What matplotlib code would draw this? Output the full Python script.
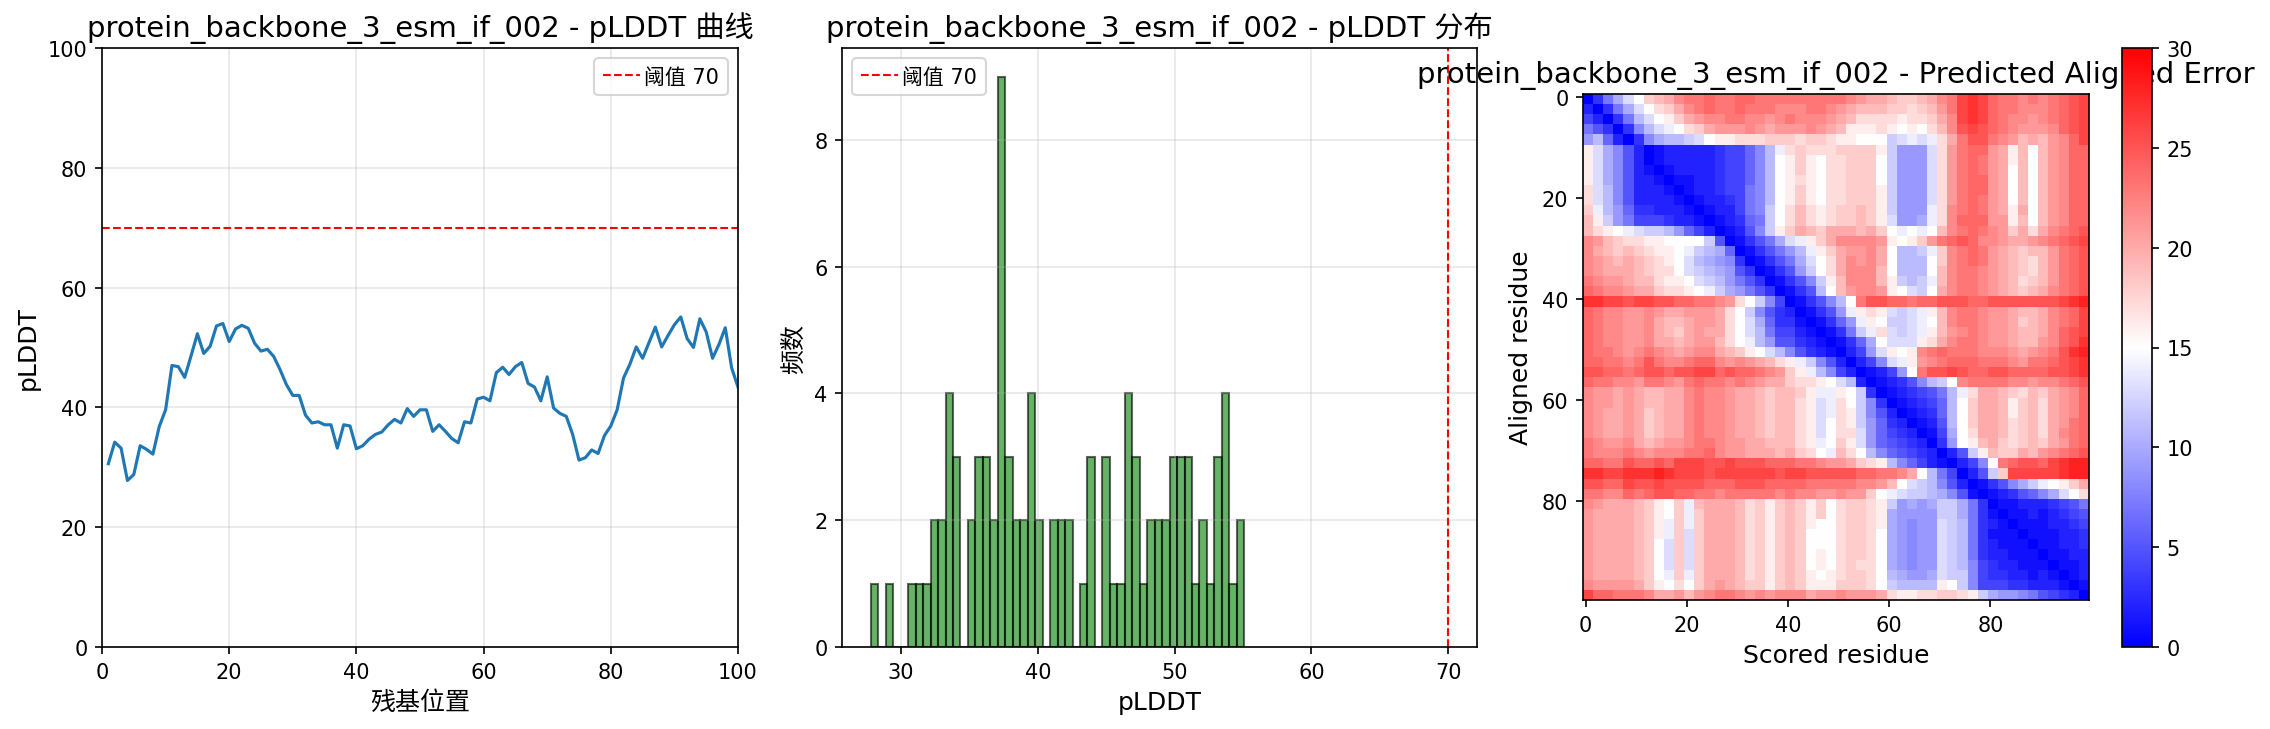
import numpy as np
import matplotlib
matplotlib.use('Agg')
import matplotlib.pyplot as plt

plt.rcParams['font.family'] = ['DejaVu Sans', 'Noto Sans CJK SC']

W, H = 2270, 730
NAME = 'protein_backbone_3_esm_if_002'

# per-residue pLDDT
plddt = [30.6, 34.2, 33.2, 27.8, 28.8, 33.6, 33.0, 32.2, 36.8, 39.6,
         47.0, 46.8, 45.0, 48.6, 52.3, 49.0, 50.2, 53.6, 54.0, 51.0,
         53.1, 53.7, 53.2, 50.7, 49.4, 49.7, 48.5, 46.3, 43.8, 42.0,
         42.0, 38.7, 37.4, 37.6, 37.1, 37.1, 33.2, 37.1, 36.9, 33.1,
         33.6, 34.7, 35.5, 35.9, 37.1, 38.0, 37.4, 39.8, 38.5, 39.6,
         39.6, 36.0, 37.1, 36.0, 34.8, 34.1, 37.6, 37.4, 41.4, 41.7,
         41.1, 45.8, 46.7, 45.5, 46.8, 47.5, 44.0, 43.4, 41.1, 45.1,
         39.9, 39.0, 38.5, 35.5, 31.2, 31.6, 32.9, 32.3, 35.3, 36.9,
         39.6, 44.9, 47.2, 50.1, 48.2, 50.8, 53.4, 50.1, 52.0, 53.8,
         55.1, 51.5, 50.0, 54.8, 52.6, 48.2, 50.5, 53.3, 46.6, 43.4]
residues = list(range(1, 101))

# histogram counts, 50 bins between the lowest and highest score
hist_counts = [1, 0, 1, 0, 0, 1, 1, 1, 2, 2,
               4, 3, 0, 2, 3, 3, 2, 9, 3, 2,
               2, 4, 2, 0, 2, 2, 2, 0, 1, 3,
               0, 3, 1, 1, 4, 3, 1, 2, 2, 2,
               3, 3, 3, 1, 2, 1, 3, 4, 1, 2]
threshold = 70

# PAE, one character per 2x2 residues, base 32 (0-9, a-u)
pae_rows = [
    "037ad fijkm nnonn oonnn nnnnn nmlkk jiijk mnqrq onnmn mnopq",
    "2037a dfhik mnonn onnnm mmnnm lkjjj iihij lnqrq onnmm mnopq",
    "42037 bdfgi klmmn nmmlm nmmml kjhhh hghhi kmqrq onmml mnopq",
    "75303 8bdef hikll lmlkl llmlk jgggh gfgfh jmpqp onmll lmopq",
    "9b620 38abb cdfgg hhhii ihiih ggfff cdede hknpp nmljk jlmoq",
    "gda85 20122 22234 468be hihhh iiiig c999d hlnoo lkgjf jlmoo",
    "gda85 20122 22234 468bf gigfh hiiif c999d hlnon lkgjf jlmoo",
    "gda85 21012 22234 468bf gigfh hiiif c999d hlnon lkfjf jlmoo",
    "gda85 22101 12234 468bf ghgfh hiiif c999d hlnoo lkfjf jlmoo",
    "hdb85 22210 12234 478bf gigfh hiiig c999d hlnoo lkfjf jlmoo",
    "hdb85 22221 01223 478bf gigfh hiiig c999d hlnon lkfjf jlmoo",
    "ieb96 33222 10122 478cf hjhgh iijig c999e hmnon lkgkf jlmoo",
    "jgc97 44432 21012 367cf hjhgh iijig d99ae hmooo llgjf jlmoo",
    "jhgfe dccb9 64201 258cg ikjik kkjki fefef jmnon mlikh kmnop",
    "mljih hggff ffc50 1357a degik mmmml gfgil nopom mlkkl mnopq",
    "mkjij ihggf ecba6 01357 9begi kllmk fbbce imnon lkjij jlnop",
    "mlkjk jihgf dba98 30135 7adfh kmlmk fbbbf imnon lkjih jlnop",
    "mlkkk jihhf dcba9 53013 59cfh kmmmj fbbbf jmnnm lkjih jlnop",
    "nmllk jjhgg fdcb9 75301 358cg jmmmj gcbce jmnnm lkjhi jlnop",
    "onmml kkihh gfeca 97530 135bf jlmml gfdcf kmnnm lkjij kmnop",
    "rrqqp qqppo onnml hfc84 01358 bfnpp oonoo pppoo ppppp ppqrs",
    "onmml lmlkk lllkh fc853 20135 9eghg dcdeg jmnnm llkjj kmnoq",
    "onmml lmkjj kllkh fda63 31013 69egf ccdef jmnnm llkij kmnoq",
    "onmml lmkji klkkh fdb74 42101 37ceh dcdeg jlmnm llkjj kmopq",
    "onmml lmkkj klljh feb95 53210 136af dddgh kmnnm llkjj lmopr",
    "onnml mnmlk lmmkj igfdb 85321 0249d gfgmn onnnm mmlkl mnprs",
    "oonnm npnmm nooml mlkjh gec85 20248 deglm nooon nnmln nopqr",
    "ppoon oppop pqqop oonml igeb8 42012 49fnp pqpoo ppooo oppqr",
    "onnmm lnnml nonnm nmlkk ihhgf db201 2358b cfmnn nnmml mmnop",
    "mllkl kjjkk mnmml kkjij jigee gfc30 12345 7behk kjihj iklmo",
    "mllkl kjjkk mnmml kkjij jhgde hfc83 01234 6bfik kjgij hklmo",
    "mlkkl kijkk mnmml kkjij jhgde hgc85 20123 6bfik kjgij hklmo",
    "mlkkl kijkk mnmml kkjij jhgdf hgc96 32012 5bfik kjhij hklno",
    "mlkkl kijkk mnmml kkjij jhgdf hhd96 43201 4afhk kjhij hkmno",
    "nmllm kjkll mnnml lkkjj jhgef igd96 54320 39fgj kihij iklno",
    "nmmmn mlmmm nnoml lkkkj kihfe jhfb8 65432 025cg jiikj lmnop",
    "oonnp oopoq qqppq pppoo onnml lkihg b8642 10248 fnopp oqrss",
    "rrqqr rrsrq qqpqq qqqqp qqppp ppoon nmkfb 74025 ciqqq qqrss",
    "ppooq ppqpp ppooo pppoo oonnn nnmml jfdcb 85201 358ac efgik",
    "nnmmo noppo onnmn nnnnm nmmll mllif edccb a8510 12356 8adfh",
    "mlkkk jigfi ejkkk jhigi jigif hiihg c9a9a cca73 01122 23457",
    "lkkkk jigfi eikkk jhigi jigif hiihg a9999 cca73 10112 12345",
    "lkkkk jigei eikkk jhigi jigff hiihg a9899 dcb73 21011 12234",
    "lkkkk jigei dikkk jhigi jifff hiihf a9899 dcb73 11101 11223",
    "lkkkk jifdi dikkk jhigi jifff hiihf a9899 dcb73 21110 11223",
    "lkkkk jifdi dikkk jhigi jifgf hiihf a9899 dcb73 22111 01122",
    "lkkkk jifdi dikkk jhigi jifgf hihhf a9899 dcb84 32211 10112",
    "lkkkk jifei eikkk jhigi jigfg hiihf ba99a dcc84 33221 21012",
    "mllll kigfh fiklk jiigi jiggg iiihf cbbbb gfc84 44332 22101",
    "qoonn nmkkl jlmnn mlmlm mmkll mlllk hgghh iihgc a9987 54320",
]
pae = np.array([[int(c, 32) for c in row.replace(' ', '')] for row in pae_rows], dtype=float)


def axes_px(fig, left, top, right, bottom):
    return fig.add_axes([left / W, 1 - bottom / H, (right - left) / W, (bottom - top) / H])


fig = plt.figure(figsize=(W / 150, H / 150), dpi=150)

ax1 = axes_px(fig, 102, 49, 738, 648)
ax1.plot(residues, plddt, linewidth=1.5)
ax1.axhline(threshold, color='red', linestyle='--', linewidth=1, label=f'阈值 {threshold}')
ax1.set_xlim(0, 100)
ax1.set_ylim(0, 100)
ax1.set_xlabel('残基位置', fontsize=12)
ax1.set_ylabel('pLDDT', fontsize=12)
ax1.set_title(f'{NAME} - pLDDT 曲线', fontsize=14)
ax1.grid(True, alpha=0.3)
# the CJK glyphs run wider than the boxes in the reference, tighten the legend to keep its width
ax1.legend(loc='upper right', handlelength=1.8, handletextpad=0.2)

ax2 = axes_px(fig, 842, 49, 1477, 648)
edges = np.linspace(min(plddt), max(plddt), len(hist_counts) + 1)
ax2.hist(edges[:-1], bins=edges, weights=hist_counts, color='green', alpha=0.6, edgecolor='black')
ax2.axvline(threshold, color='red', linestyle='--', linewidth=1, label=f'阈值 {threshold}')
ax2.set_xlabel('pLDDT', fontsize=12)
ax2.set_ylabel('频数', fontsize=12)
ax2.set_title(f'{NAME} - pLDDT 分布', fontsize=14)
ax2.grid(True, alpha=0.3)
ax2.legend(loc='upper left', handlelength=1.8, handletextpad=0.2)

ax3 = axes_px(fig, 1582, 95, 2090, 601)
im = ax3.imshow(pae, cmap='bwr', vmin=0, vmax=30, interpolation='nearest',
                extent=(-0.5, 99.5, 99.5, -0.5))
ax3.set_xlabel('Scored residue', fontsize=12)
ax3.set_ylabel('Aligned residue', fontsize=12)
ax3.set_title(f'{NAME} - Predicted Aligned Error', fontsize=14)

cax = axes_px(fig, 2122, 49, 2152, 648)
fig.colorbar(im, cax=cax)

fig.savefig('out.png', dpi=150)
